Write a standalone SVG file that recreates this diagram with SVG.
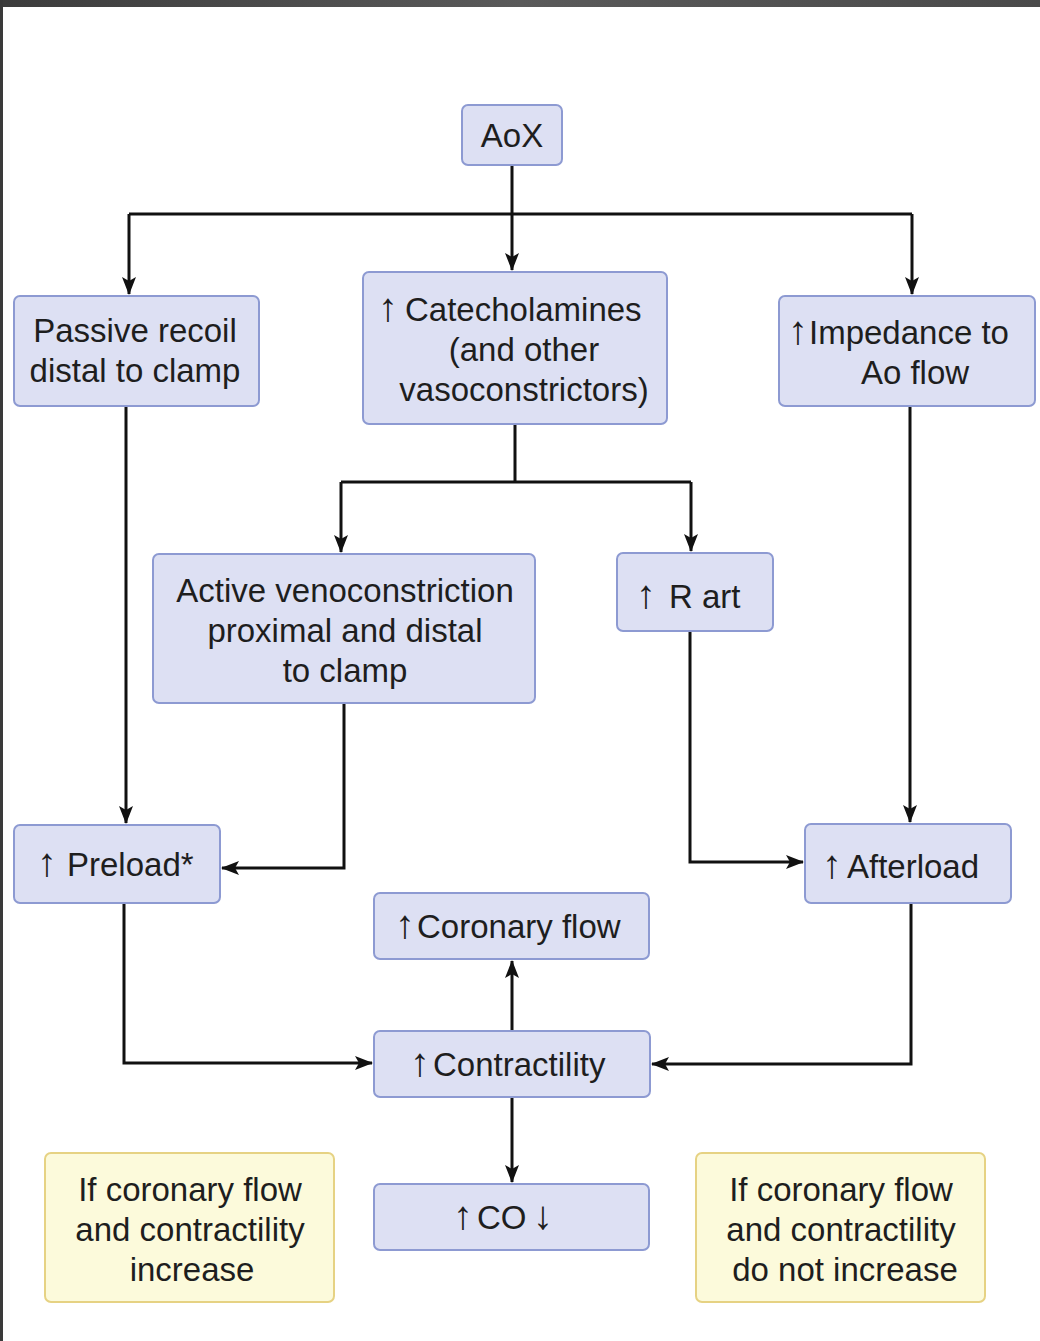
<svg xmlns="http://www.w3.org/2000/svg" width="1040" height="1341" viewBox="0 0 1040 1341">
<defs>
<linearGradient id="bar" x1="0" y1="0" x2="1" y2="0">
<stop offset="0" stop-color="#3c3c3c"/><stop offset="0.5" stop-color="#5a5a5a"/><stop offset="1" stop-color="#4a4a4a"/>
</linearGradient>
<marker id="ah" markerWidth="18" markerHeight="14" refX="17" refY="7" orient="auto" markerUnits="userSpaceOnUse">
<path d="M0,0 L18,7 L0,14 L4,7 Z" fill="#111"/>
</marker>
<style>
.b{fill:#dde0f3;stroke:#8d9ad2;stroke-width:2}
.y{fill:#fcfadb;stroke:#e6d283;stroke-width:2}
.t{font-family:"Liberation Sans",Arial,sans-serif;font-size:33px;fill:#1e1e1e;text-anchor:middle}
.s{text-anchor:start}
.ar{font-size:40px;text-anchor:middle}
.c{fill:none;stroke:#111;stroke-width:3;marker-end:url(#ah)}
.l{fill:none;stroke:#111;stroke-width:3}
</style>
</defs>
<rect width="1040" height="1341" fill="#fff"/>
<rect x="0" y="0" width="1040" height="7" fill="url(#bar)"/>
<rect x="0" y="0" width="3" height="1341" fill="#3a3a3a"/>

<g id="connectors">
<path class="l" d="M512,165 V214 M129,214 H912"/>
<path class="c" d="M129,214 V294"/>
<path class="c" d="M512,214 V270"/>
<path class="c" d="M912,214 V294"/>
<path class="c" d="M126,406 V823"/>
<path class="l" d="M515,424 V482 M341,482 H691"/>
<path class="c" d="M341,482 V552"/>
<path class="c" d="M691,482 V551"/>
<path class="c" d="M344,703 V868 H222"/>
<path class="c" d="M690,631 V862 H803"/>
<path class="c" d="M910,406 V822"/>
<path class="c" d="M124,903 V1063 H372"/>
<path class="c" d="M911,903 V1064 H652"/>
<path class="c" d="M512,1031 V961"/>
<path class="c" d="M512,1097 V1182"/>
</g>

<g id="aox"><rect class="b" x="462" y="105" width="100" height="60" rx="6"/>
<text class="t" x="512" y="147">AoX</text></g>

<g id="passive"><rect class="b" x="14" y="296" width="245" height="110" rx="6"/>
<text class="t" x="135" y="342">Passive recoil</text>
<text class="t" x="135" y="382">distal to clamp</text></g>

<g id="catecholamines"><rect class="b" x="363" y="272" width="304" height="152" rx="6"/>
<text class="t s" y="321"><tspan class="ar" x="388">↑</tspan><tspan x="405">Catecholamines</tspan></text>
<text class="t" x="524" y="361">(and other</text>
<text class="t" x="524" y="401">vasoconstrictors)</text></g>

<g id="impedance"><rect class="b" x="779" y="296" width="256" height="110" rx="6"/>
<text class="t s" y="344"><tspan class="ar" x="798">↑</tspan><tspan x="809">Impedance to</tspan></text>
<text class="t" x="915" y="384">Ao flow</text></g>

<g id="active"><rect class="b" x="153" y="554" width="382" height="149" rx="6"/>
<text class="t" x="345" y="602">Active venoconstriction</text>
<text class="t" x="345" y="642">proximal and distal</text>
<text class="t" x="345" y="682">to clamp</text></g>

<g id="rart"><rect class="b" x="617" y="553" width="156" height="78" rx="6"/>
<text class="t s" y="608"><tspan class="ar" x="646">↑</tspan><tspan x="669">R art</tspan></text></g>

<g id="preload"><rect class="b" x="14" y="825" width="206" height="78" rx="6"/>
<text class="t s" y="876"><tspan class="ar" x="47">↑</tspan><tspan x="67">Preload*</tspan></text></g>

<g id="afterload"><rect class="b" x="805" y="824" width="206" height="79" rx="6"/>
<text class="t s" y="878"><tspan class="ar" x="832">↑</tspan><tspan x="847">Afterload</tspan></text></g>

<g id="coronary"><rect class="b" x="374" y="893" width="275" height="66" rx="6"/>
<text class="t s" y="938"><tspan class="ar" x="405">↑</tspan><tspan x="417">Coronary flow</tspan></text></g>

<g id="contractility"><rect class="b" x="374" y="1031" width="276" height="66" rx="6"/>
<text class="t s" y="1076"><tspan class="ar" x="420">↑</tspan><tspan x="433">Contractility</tspan></text></g>

<g id="co"><rect class="b" x="374" y="1184" width="275" height="66" rx="6"/>
<text class="t s" y="1229"><tspan class="ar" x="463">↑</tspan><tspan x="477">CO</tspan><tspan class="ar" x="543">↓</tspan></text></g>

<g id="note-left"><rect class="y" x="45" y="1153" width="289" height="149" rx="6"/>
<text class="t" x="190" y="1201">If coronary flow</text>
<text class="t" x="190" y="1241">and contractility</text>
<text class="t" x="192" y="1281">increase</text></g>

<g id="note-right"><rect class="y" x="696" y="1153" width="289" height="149" rx="6"/>
<text class="t" x="841" y="1201">If coronary flow</text>
<text class="t" x="841" y="1241">and contractility</text>
<text class="t" x="845" y="1281">do not increase</text></g>
</svg>
